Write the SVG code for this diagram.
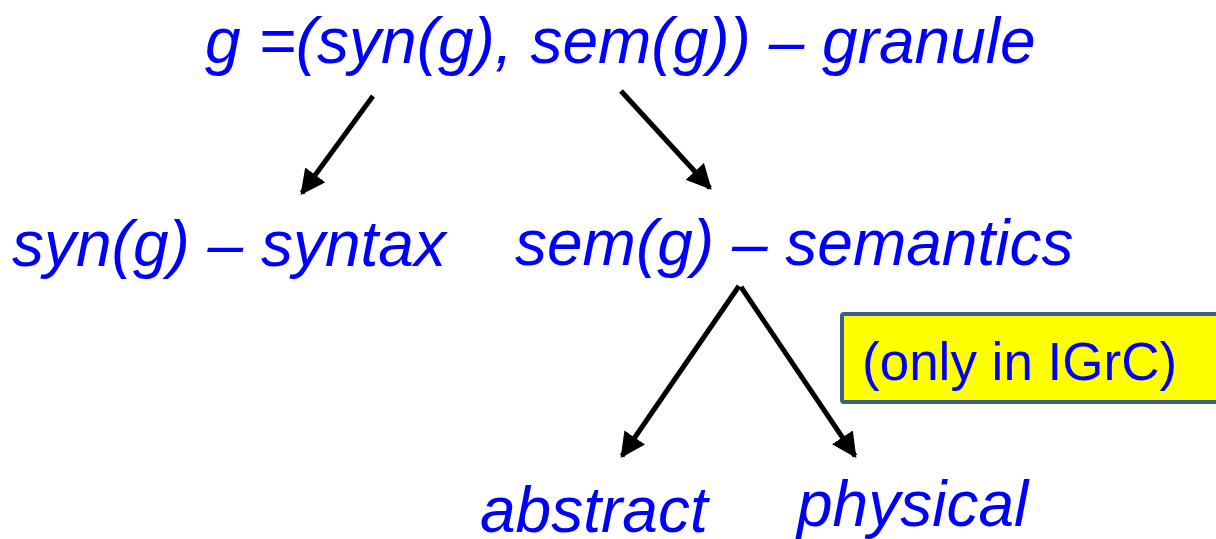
<svg xmlns="http://www.w3.org/2000/svg" width="1216" height="539" viewBox="0 0 1216 539">
<style>
.t{font-family:"Liberation Sans",Arial,sans-serif;font-style:italic;fill:#0000ff;font-size:64px}
.n{font-family:"Liberation Sans",Arial,sans-serif;fill:#0000ff;font-size:53px}
.c{stroke:#000;stroke-width:5;fill:none;marker-end:url(#ah)}
</style>
<defs>
<marker id="ah" viewBox="0 0 10 10" refX="9" refY="5" markerWidth="5" markerHeight="5" orient="auto" markerUnits="strokeWidth">
<path d="M0,0 L10,5 L0,10 Z" fill="#000"/>
</marker>
</defs>
<rect width="1216" height="539" fill="#fff"/>
<g id="granule"><text class="t" x="205" y="63">g =(syn(g), sem(g)) – granule</text></g>
<g id="syntax"><text class="t" x="12" y="266">syn(g) – syntax</text></g>
<g id="semantics"><text class="t" x="515" y="265">sem(g) – semantics</text></g>
<g id="abstract"><text class="t" x="480" y="532">abstract</text></g>
<g id="physical"><text class="t" x="797" y="526">physical</text></g>
<g id="note"><rect x="842" y="314" width="380" height="88" fill="#ffff00" stroke="#3c5f8a" stroke-width="4" rx="2"/><text class="n" x="862" y="380">(only in IGrC)</text></g>
<g id="connectors">
<line class="c" x1="373" y1="96" x2="302" y2="193"/>
<line class="c" x1="621" y1="91" x2="710" y2="188"/>
<line class="c" x1="739" y1="286" x2="622" y2="456"/>
<line class="c" x1="741" y1="287" x2="855" y2="456"/>
</g>
</svg>
